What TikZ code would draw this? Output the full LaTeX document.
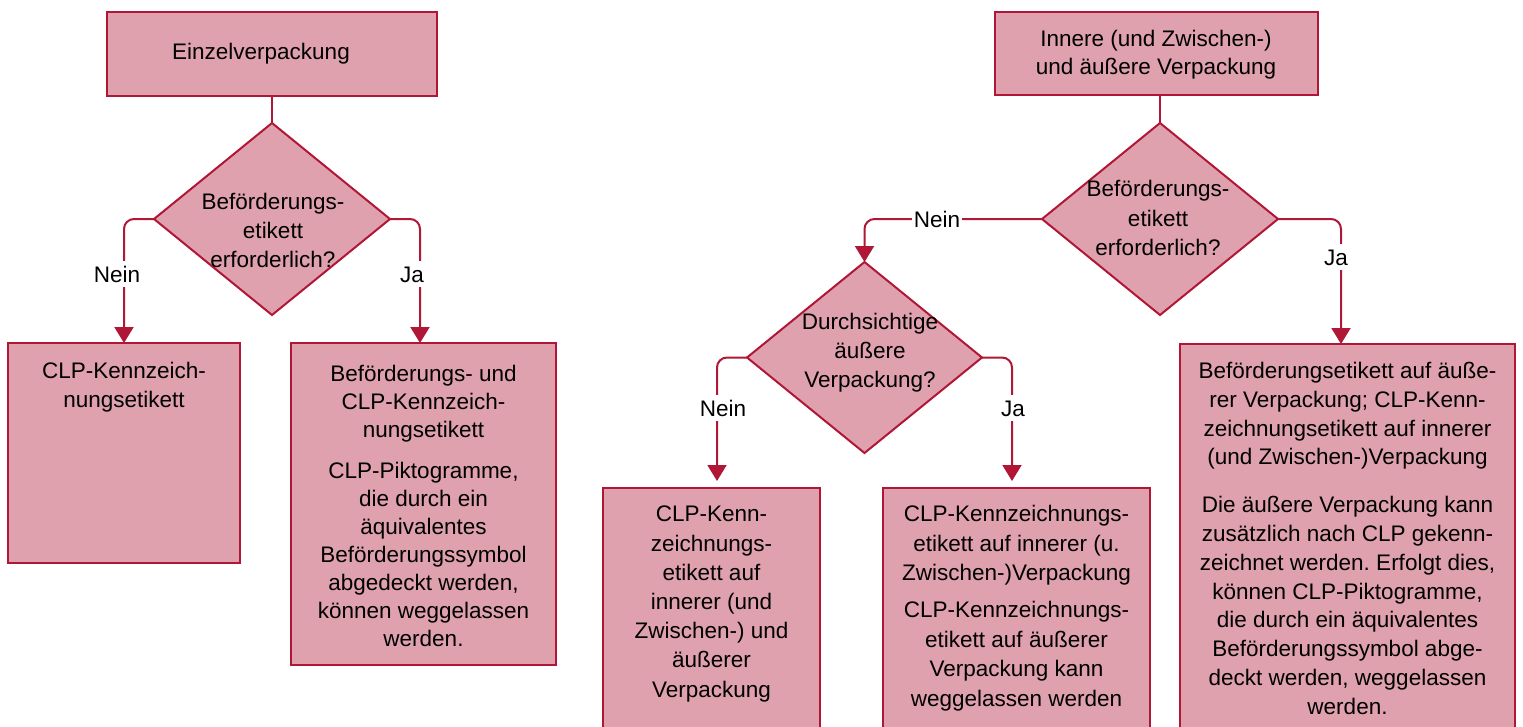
\documentclass[tikz,border=0pt]{standalone}
\usepackage{fontspec}
\setmainfont{Liberation Sans}
\usetikzlibrary{shapes.geometric,arrows.meta}
\definecolor{boxfill}{RGB}{223,161,173}
\definecolor{boxline}{RGB}{176,22,54}
\frenchspacing
\begin{document}
\begin{tikzpicture}[x=1pt,y=-1pt,
  stepbox/.style={draw=boxline,fill=boxfill,line width=2pt,rectangle,inner sep=0pt,outer sep=0pt},
  decision/.style={draw=boxline,fill=boxfill,line width=2pt,diamond,minimum width=236pt,minimum height=192pt,inner sep=0pt,outer sep=0pt},
  txt/.style={font=\fontsize{22.5}{28}\selectfont,align=center,inner sep=0pt,anchor=north},
  conn/.style={draw=boxline,line width=2pt,rounded corners=10pt},
  arr/.style={conn,-{Triangle[length=16pt,width=19pt]}},
  lbl/.style={fill=white,font=\fontsize{22.5}{28}\selectfont,inner xsep=2pt,inner ysep=5pt,text height=16pt,text depth=0pt}
]
\useasboundingbox (0,0) rectangle (1523,726);
\clip (0,0) rectangle (1523,726);

% left chart
\node[stepbox,minimum width=330pt,minimum height=84pt] (A) at (272,54) {};
\node[decision] (D1) at (272,219) {};
\node[stepbox,minimum width=232pt,minimum height=220pt] (B1) at (124,453) {};
\node[stepbox,minimum width=265pt,minimum height=322pt] (B2) at (423.5,504) {};

% right chart
\node[stepbox,minimum width=323pt,minimum height=83pt] (C) at (1156.5,53.5) {};
\node[decision] (D2) at (1160,219) {};
\node[decision,minimum width=235pt,minimum height=191pt] (D3) at (864.5,357.5) {};
\node[stepbox,minimum width=217pt,minimum height=252pt] (E1) at (711.5,614) {};
\node[stepbox,minimum width=267pt,minimum height=252pt] (E2) at (1016.5,614) {};
\node[stepbox,minimum width=335pt,minimum height=396pt] (E3) at (1347.5,542) {};

% connectors
\draw[conn] (A.south) -- (D1.north);
\draw[arr] (D1.west) -| (B1.north);
\draw[arr] (D1.east) -| ([xshift=-3.5pt]B2.north);
\draw[conn] (C.south -| D2.north) -- (D2.north);
\draw[arr] (D2.west) -| (D3.north);
\draw[arr] (D2.east) -| ([xshift=-6.5pt]E3.north);
\draw[arr,shorten >=7pt] (D3.west) -| ([xshift=5.5pt]E1.north);
\draw[arr,shorten >=7pt] (D3.east) -| ([xshift=-4.5pt]E2.north);

% labels
\node[lbl] (l1) at (117,274) {Nein};
\node[lbl] (l2) at (412,274) {Ja};
\node[lbl] (l3) at (937,219) {Nein};
\node[lbl] (l4) at (1336,257) {Ja};
\node[lbl] (l5) at (723,408) {Nein};
\node[lbl] (l6) at (1013,408) {Ja};

% texts
\node[txt] (tA) at (261,43) {Einzelverpackung};
\node[txt,font=\fontsize{22.5}{29}\selectfont] (tD1) at (273,193) {Beförderungs-\\etikett\\erforderlich?};
\node[txt,font=\fontsize{22.5}{29}\selectfont] (tB1) at (124,362) {CLP-Kennzeich-\\nungsetikett};
\node[txt] (tB2) at (423.5,365) {Beförderungs- und\\CLP-Kennzeich-\\nungsetikett\\[12.5pt]CLP-Piktogramme,\\die durch ein\\äquivalentes\\Beförderungssymbol\\abgedeckt werden,\\können weggelassen\\werden.};
\node[txt] (tC) at (1156,30) {Innere (und Zwischen-)\\und äußere Verpackung};
\node[txt,font=\fontsize{22.5}{29.5}\selectfont] (tD2) at (1158,180) {Beförderungs-\\etikett\\erforderlich?};
\node[txt,font=\fontsize{22.5}{29}\selectfont] (tD3) at (870,313) {Durchsichtige\\äußere\\Verpackung?};
\node[txt,font=\fontsize{22.5}{29.2}\selectfont] (tE1) at (711.5,506) {CLP-Kenn-\\zeichnungs-\\etikett auf\\innerer (und\\Zwischen-) und\\äußerer\\Verpackung};
\node[txt,font=\fontsize{22.5}{29.5}\selectfont] (tE2) at (1016.5,505) {CLP-Kennzeichnungs-\\etikett auf innerer (u.\\Zwischen-)Verpackung\\[7.5pt]CLP-Kennzeichnungs-\\etikett auf äußerer\\Verpackung kann\\weggelassen werden};
\node[txt,font=\fontsize{22.5}{28.8}\selectfont] (tE3) at (1347.5,362) {Beförderungsetikett auf äuße-\\rer Verpackung; CLP-Kenn-\\zeichnungsetikett auf innerer\\(und Zwischen-)Verpackung\\[19pt]Die äußere Verpackung kann\\zusätzlich nach CLP gekenn-\\zeichnet werden. Erfolgt dies,\\können CLP-Piktogramme,\\die durch ein äquivalentes\\Beförderungssymbol abge-\\deckt werden, weggelassen\\werden.};
\end{tikzpicture}
\end{document}
